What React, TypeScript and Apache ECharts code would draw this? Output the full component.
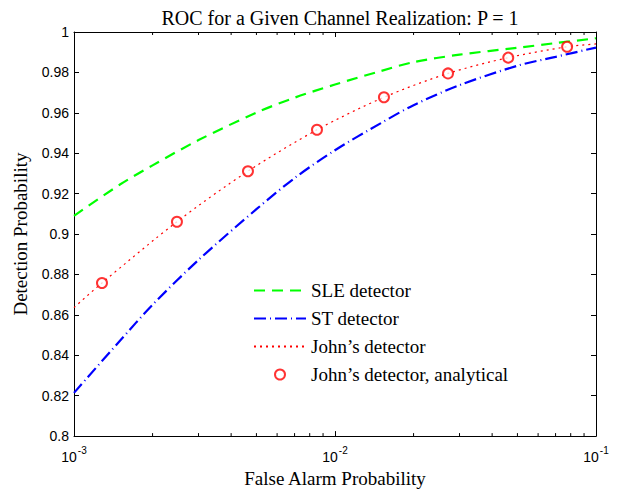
import React, { useEffect, useRef } from "react";
import * as echarts from "echarts";

const titleText = "ROC for a Given Channel Realization: P = 1";
const xName = "False Alarm Probability";
const yName = "Detection Probability";

const seriesNames = [
  "SLE detector",
  "ST detector",
  "John\u2019s detector",
  "John\u2019s detector, analytical",
];

// False alarm sample points for the curves
const curveFa = [0.001, 0.0015, 0.002, 0.003, 0.005, 0.007, 0.01, 0.015, 0.02, 0.03, 0.05, 0.07, 0.1];
const sleValues = [0.909, 0.9245, 0.934, 0.9465, 0.9601, 0.9675, 0.974, 0.9807, 0.9851, 0.9888, 0.9922, 0.9945, 0.9969];
const stValues = [0.8214, 0.8472, 0.865, 0.8872, 0.9123, 0.9277, 0.9415, 0.9549, 0.9638, 0.9737, 0.9833, 0.9877, 0.9923];

// John's detector (simulated) curve
const johnFa = [0.001, 0.00128, 0.00248, 0.00464, 0.00853, 0.0154, 0.0271, 0.0461, 0.0775, 0.1];
const johnValues = [0.8636, 0.8758, 0.9061, 0.9311, 0.9516, 0.9677, 0.9795, 0.9873, 0.9927, 0.9941];

// John's detector analytical points
const analyticFa = [0.00128, 0.00248, 0.00464, 0.00853, 0.0154, 0.0271, 0.0461, 0.0775];
const analyticValues = [0.8758, 0.9061, 0.9311, 0.9516, 0.9677, 0.9795, 0.9873, 0.9927];

// Minor ticks of the log axis
const minorTicks = [
  0.002, 0.003, 0.004, 0.005, 0.006, 0.007, 0.008, 0.009,
  0.02, 0.03, 0.04, 0.05, 0.06, 0.07, 0.08, 0.09,
];

const xMin = 0.001;
const xMax = 0.1;
const yMin = 0.8;
const yMax = 1;
const yInterval = 0.02;

const serif = "Liberation Serif";
const sans = "Liberation Sans";

export default function App() {
  const ref = useRef<HTMLDivElement>(null);

  useEffect(() => {
    if (!ref.current) return;
    const chart = echarts.init(ref.current, null, { renderer: "svg" });

    const zip = (xs: number[], ys: number[]) => xs.map((x, i) => [x, ys[i]]);

    const logAxisCommon = {
      type: "log" as const,
      logBase: 10,
      min: xMin,
      max: xMax,
      splitLine: { show: false },
      axisLine: { show: true, onZero: false, lineStyle: { color: "#000", width: 1 } },
      axisTick: { show: true, inside: true, length: 5, lineStyle: { color: "#000" } },
    };
    const valAxisCommon = {
      type: "value" as const,
      min: yMin,
      max: yMax,
      interval: yInterval,
      splitLine: { show: false },
      axisLine: { show: true, onZero: false, lineStyle: { color: "#000", width: 1 } },
      axisTick: { show: true, inside: true, length: 5, lineStyle: { color: "#000" } },
    };

    const hiddenSymbol = { color: "rgba(0,0,0,0)", borderWidth: 0, opacity: 0 };

    chart.setOption({
      animation: false,
      backgroundColor: "#fff",
      title: {
        text: titleText,
        left: 335,
        top: 3,
        textAlign: "center",
        textStyle: { fontFamily: serif, fontSize: 20, fontWeight: "normal", color: "#000" },
      },
      grid: { left: 74, right: 31, top: 32, bottom: 52, containLabel: false },
      legend: {
        data: [
          { name: seriesNames[0], itemStyle: hiddenSymbol },
          { name: seriesNames[1], itemStyle: hiddenSymbol },
          { name: seriesNames[2], itemStyle: hiddenSymbol },
          { name: seriesNames[3] },
        ],
        orient: "vertical",
        left: 253,
        top: 281,
        padding: 0,
        itemWidth: 52,
        itemHeight: 10,
        itemGap: 9,
        textStyle: { fontFamily: serif, fontSize: 19, color: "#000" },
        selectedMode: false,
      },
      xAxis: [
        {
          ...logAxisCommon,
          position: "bottom",
          name: xName,
          nameLocation: "middle",
          nameGap: 29,
          nameTextStyle: { fontFamily: serif, fontSize: 19, color: "#000" },
          axisLabel: {
            margin: 9,
            formatter: (v: number) => `{b|10}{s|${Math.round(Math.log10(v))}}`,
            rich: {
              b: { fontFamily: sans, fontSize: 14, color: "#000", lineHeight: 19, verticalAlign: "bottom" },
              s: { fontFamily: sans, fontSize: 10, color: "#000", verticalAlign: "top", padding: [0, 0, 0, 1] },
            },
          },
        },
        {
          ...logAxisCommon,
          position: "top",
          axisLabel: { show: false },
        },
      ],
      yAxis: [
        {
          ...valAxisCommon,
          position: "left",
          name: yName,
          nameLocation: "middle",
          nameGap: 44,
          nameRotate: 90,
          nameTextStyle: { fontFamily: serif, fontSize: 19, color: "#000" },
          axisLabel: {
            margin: 5,
            fontFamily: sans,
            fontSize: 14,
            color: "#000",
            formatter: (v: number) => String(parseFloat(v.toFixed(2))),
          },
        },
        {
          ...valAxisCommon,
          position: "right",
          axisLabel: { show: false },
        },
      ],
      series: [
        {
          name: seriesNames[0],
          type: "line",
          data: zip(curveFa, sleValues),
          symbol: "none",
          smooth: 0.3,
          lineStyle: { color: "#00ff00", width: 2.2, type: [11, 7] },
          itemStyle: { color: "#00ff00" },
          z: 3,
        },
        {
          name: seriesNames[1],
          type: "line",
          data: zip(curveFa, stValues),
          symbol: "none",
          smooth: 0.3,
          lineStyle: { color: "#0000ff", width: 2.2, type: [12, 4, 1, 4] },
          itemStyle: { color: "#0000ff" },
          z: 3,
        },
        {
          name: seriesNames[2],
          type: "line",
          data: zip(johnFa, johnValues),
          symbol: "none",
          smooth: 0.3,
          lineStyle: { color: "#ff0000", width: 1.2, type: [2, 4] },
          itemStyle: { color: "#ff0000" },
          z: 3,
        },
        {
          name: seriesNames[3],
          type: "scatter",
          data: zip(analyticFa, analyticValues),
          symbol: "emptyCircle",
          symbolSize: 10,
          itemStyle: { color: "#ff0000", borderColor: "#ff0000", borderWidth: 2.4 },
          z: 4,
        },
        {
          name: "minorTicks",
          type: "custom",
          silent: true,
          data: minorTicks.map((v) => [v, yMin]),
          renderItem: (_params: any, api: any) => {
            const v = api.value(0);
            const pb = api.coord([v, yMin]);
            const pt = api.coord([v, yMax]);
            return {
              type: "group",
              children: [
                {
                  type: "line",
                  shape: { x1: pb[0], y1: pb[1], x2: pb[0], y2: pb[1] - 3 },
                  style: { stroke: "#000", lineWidth: 1 },
                },
                {
                  type: "line",
                  shape: { x1: pt[0], y1: pt[1], x2: pt[0], y2: pt[1] + 3 },
                  style: { stroke: "#000", lineWidth: 1 },
                },
              ],
            };
          },
          z: 2,
        },
      ],
    });

    return () => chart.dispose();
  }, []);

  return (
    <div
      ref={ref}
      style={{ position: "fixed", left: 0, top: 0, width: 627, height: 493 }}
    />
  );
}
